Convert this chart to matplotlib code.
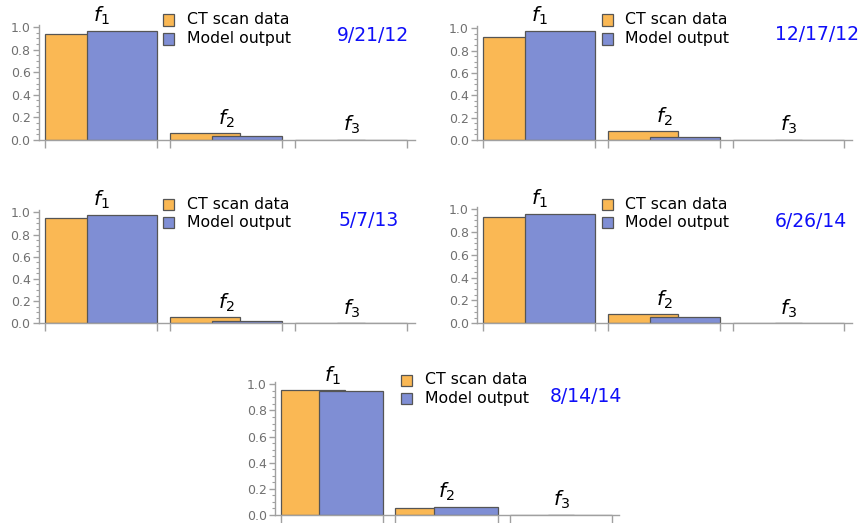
import matplotlib
matplotlib.use("Agg")
import matplotlib.pyplot as plt
from matplotlib.patches import Rectangle
from matplotlib.ticker import MultipleLocator

# ---------------- data ----------------
dates = ["9/21/12", "12/17/12", "5/7/13", "6/26/14", "8/14/14"]
components = ["$f_1$", "$f_2$", "$f_3$"]
series_names = ["CT scan data", "Model output"]
ct_scan = [
    [0.940, 0.059, 0.003],
    [0.920, 0.080, 0.002],
    [0.946, 0.054, 0.000],
    [0.927, 0.079, 0.000],
    [0.954, 0.051, 0.002],
]
model_out = [
    [0.967, 0.035, 0.002],
    [0.979, 0.024, 0.002],
    [0.980, 0.021, 0.000],
    [0.959, 0.052, 0.000],
    [0.946, 0.064, 0.002],
]

# ---------------- style ----------------
W, H = 867, 523
ORANGE = "#FAB854"
BLUE = "#7F8ED4"
EDGE = "#555555"
AXIS = "#A0A0A0"
TICKLAB = "#707070"
DATECOL = "#0F0FF8"
plt.rcParams["font.family"] = ["DejaVu Sans"]
plt.rcParams["mathtext.fontset"] = "dejavusans"

fig = plt.figure(figsize=(W / 100, H / 100), dpi=100)

# axes pixel layout: (group_start_px, group_width_px, y0_px, unit_px)
layout = [
    (45.0, 112.0, 140.0, 113.0),
    (483.3, 111.7, 140.0, 111.7),
    (45.0, 112.0, 323.3, 111.0),
    (483.3, 111.7, 323.3, 114.3),
    (280.7, 102.6, 515.0, 130.7),
]
# legend / date pixel layout: (square_x, row1_y, row2_y, text_x, date_x, date_y)
annot_layout = [
    (163.0, 20.0, 39.0, 187.0, 337.0, 35.5),
    (601.7, 20.0, 39.0, 625.0, 775.0, 35.0),
    (163.0, 204.3, 222.3, 187.0, 339.0, 220.7),
    (601.7, 204.3, 222.3, 625.0, 775.0, 221.7),
    (401.0, 380.0, 398.3, 425.0, 550.0, 396.7),
]

GAP = 0.116
BW = 0.625
OFF = 0.375
XL, XR = -0.054, 3.30
YT = 1.02
SQ = 11.0


def fx(px):
    return px / W


def fy(py):
    return 1 - py / H


for k in range(len(dates)):
    gs, gw, y0, unit = layout[k]
    left = gs + XL * gw
    right = gs + XR * gw
    top = y0 - YT * unit
    ax = fig.add_axes([fx(left), fy(y0), (right - left) / W, (y0 - top) / H])
    ax.set_xlim(XL, XR)
    ax.set_ylim(0, YT)
    starts = [i * (1 + GAP) for i in range(len(components))]
    ax.bar([s + BW / 2 for s in starts], ct_scan[k], width=BW, color=ORANGE,
           edgecolor=EDGE, linewidth=0.9, zorder=2)
    ax.bar([s + OFF + BW / 2 for s in starts], model_out[k], width=BW, color=BLUE,
           edgecolor=EDGE, linewidth=0.9, zorder=3)
    for i, s in enumerate(starts):
        top_val = max(ct_scan[k][i], model_out[k][i])
        ax.annotate(components[i], (s + 0.5, top_val), xytext=(0, 2.5),
                    textcoords="offset points", ha="center", va="bottom",
                    fontsize=14.5, color="black", annotation_clip=False)
    for side in ("top", "right"):
        ax.spines[side].set_visible(False)
    for side in ("left", "bottom"):
        ax.spines[side].set_color(AXIS)
        ax.spines[side].set_linewidth(1.0)
        ax.spines[side].set_zorder(4)
    ax.set_xticks([v for s in starts for v in (s, s + 1)])
    ax.set_xticklabels([])
    ax.tick_params(axis="x", direction="out", length=6, color=AXIS, width=1.0)
    ax.yaxis.set_major_locator(MultipleLocator(0.2))
    ax.yaxis.set_minor_locator(MultipleLocator(0.05))
    ax.set_yticks([0, 0.2, 0.4, 0.6, 0.8, 1.0])
    ax.set_yticklabels(["0.0", "0.2", "0.4", "0.6", "0.8", "1.0"])
    ax.tick_params(axis="y", which="major", direction="out", length=4, color=AXIS,
                   width=1.0, labelsize=9, labelcolor=TICKLAB, pad=2)
    ax.tick_params(axis="y", which="minor", direction="out", length=2, color=AXIS,
                   width=0.8)
    ax.patch.set_alpha(0)

    sqx, r1, r2, tx, dx, dy = annot_layout[k]
    for ry, col, name in ((r1, ORANGE, series_names[0]), (r2, BLUE, series_names[1])):
        fig.add_artist(Rectangle((fx(sqx), fy(ry + SQ / 2)), SQ / W, SQ / H,
                                 transform=fig.transFigure, facecolor=col,
                                 edgecolor=EDGE, linewidth=0.9))
        fig.text(fx(tx), fy(ry), name, ha="left", va="center", fontsize=11.3,
                 color="black")
    fig.text(fx(dx), fy(dy), dates[k], ha="left", va="center", fontsize=13.5,
             color=DATECOL)

fig.savefig("out.png", dpi=100)
